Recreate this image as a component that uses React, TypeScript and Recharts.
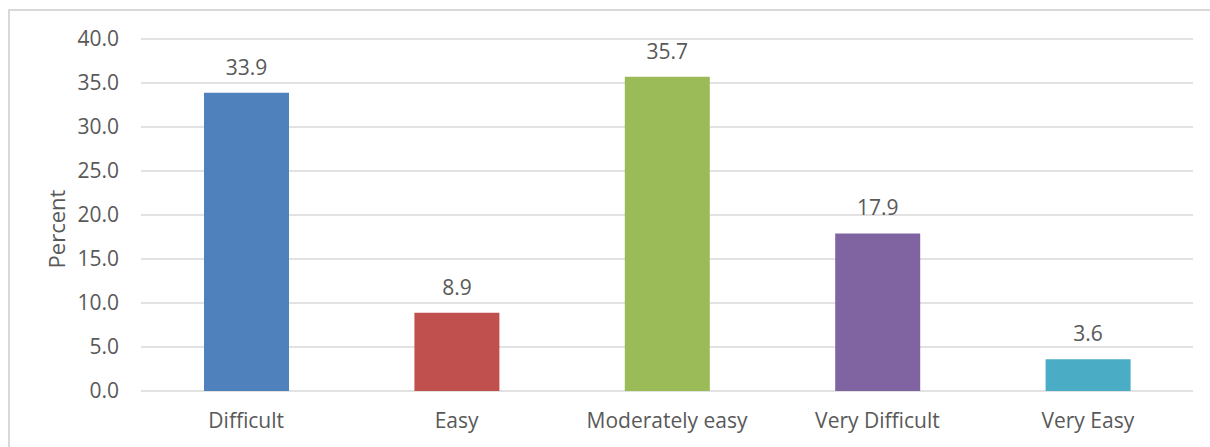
import React from 'react';
import { BarChart, Bar, XAxis, YAxis, CartesianGrid, Cell, LabelList, Label } from 'recharts';

const categories = ['Difficult', 'Easy', 'Moderately easy', 'Very Difficult', 'Very Easy'];
const percents = [33.9, 8.9, 35.7, 17.9, 3.6];
const barColors = ['#4F81BD', '#C0504D', '#9BBB59', '#8064A2', '#4BACC6'];
const yTicks = [0, 5, 10, 15, 20, 25, 30, 35, 40];

const data = categories.map((name, i) => ({ name, value: percents[i] }));

const FONT = '"Open Sans", "Noto Sans", sans-serif';
const TEXT = '#595959';
const GRID = '#d9d9d9';
const FS = 21;

const PercentLabel = () => (
  <text
    x={65}
    y={229}
    transform="rotate(-90, 65, 229)"
    textAnchor="middle"
    fill={TEXT}
    fontSize={22}
    fontFamily={FONT}
  >
    Percent
  </text>
);

export default function App() {
  return (
    <div style={{ position: 'fixed', left: 0, top: 0, width: 1210, height: 447, overflow: 'hidden', background: '#fff' }}>
      <div
        style={{
          position: 'absolute',
          left: 8,
          top: 9,
          width: 1300,
          height: 500,
          borderLeft: `2px solid ${GRID}`,
          borderTop: `2px solid ${GRID}`,
        }}
      />
      <div style={{ position: 'absolute', left: 0, top: 0 }}>
        <BarChart
          width={1210}
          height={447}
          data={data}
          margin={{ top: 39, right: 17, bottom: 26, left: 81 }}
        >
          <CartesianGrid vertical={false} stroke={GRID} strokeWidth={1.5} />
          <XAxis
            dataKey="name"
            axisLine={false}
            tickLine={false}
            tickSize={0}
            tickMargin={22}
            interval={0}
            tick={{ fill: TEXT, fontSize: FS, fontFamily: FONT }}
          />
          <YAxis
            width={60}
            domain={[0, 40]}
            ticks={yTicks}
            axisLine={false}
            tickLine={false}
            tickSize={0}
            tickMargin={22}
            tickFormatter={(v: number) => v.toFixed(1)}
            tick={{ fill: TEXT, fontSize: FS, fontFamily: FONT }}
          >
            <Label content={<PercentLabel />} />
          </YAxis>
          <Bar dataKey="value" barSize={85} isAnimationActive={false}>
            {data.map((d, i) => (
              <Cell key={d.name} fill={barColors[i]} />
            ))}
            <LabelList
              dataKey="value"
              position="top"
              offset={18}
              formatter={(v: number) => v.toFixed(1)}
              style={{ fill: TEXT, fontSize: FS, fontFamily: FONT }}
            />
          </Bar>
        </BarChart>
      </div>
    </div>
  );
}
